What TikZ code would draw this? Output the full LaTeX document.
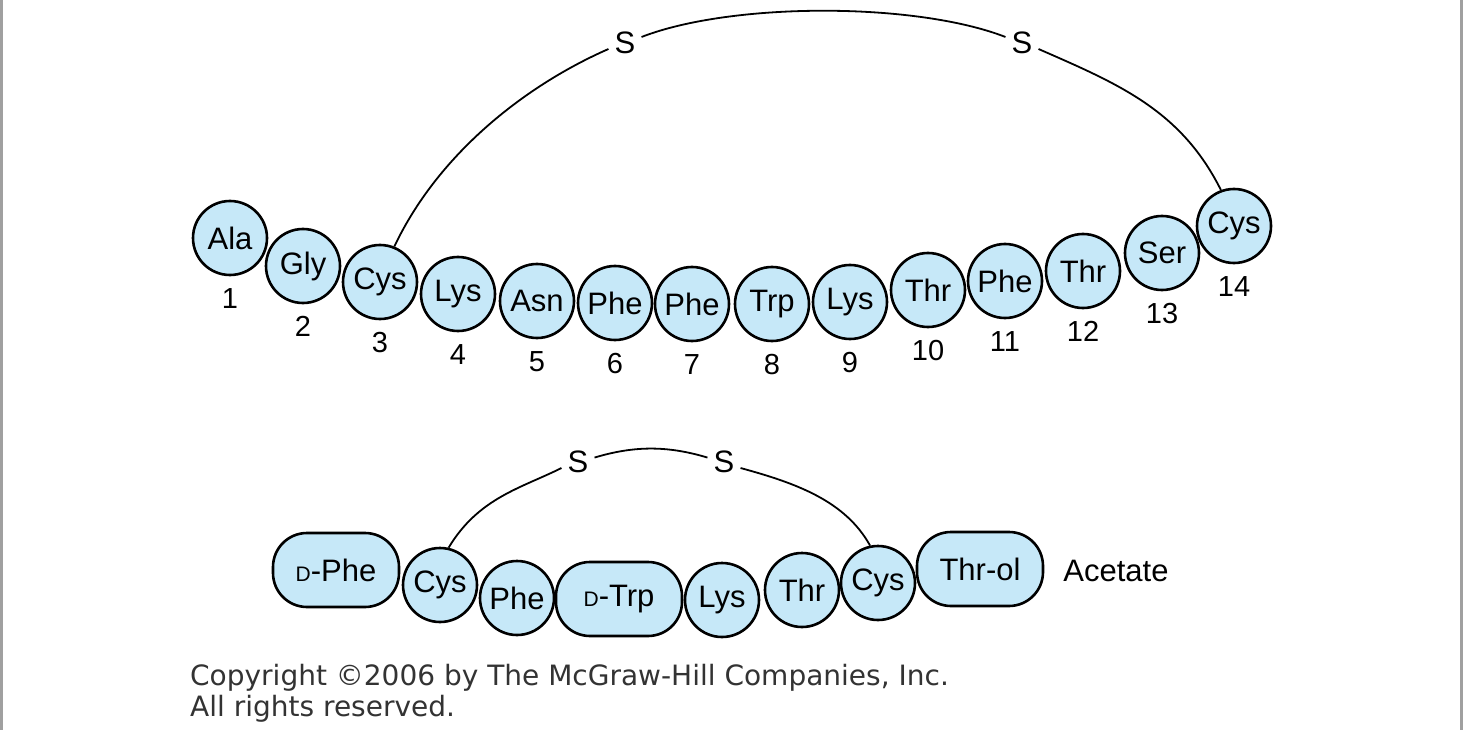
\documentclass[tikz,border=0pt]{standalone}
\usepackage{fontspec}
\setmainfont{Liberation Sans}
\newfontfamily\copyfont{DejaVu Sans}
\usepackage{xcolor}
\definecolor{resblue}{RGB}{198,232,248}
\definecolor{framegray}{RGB}{160,160,160}
\tikzset{
	residue/.style={circle,draw,fill=resblue,line width=2.6pt,minimum size=74pt,inner sep=0pt,font=\fontsize{31}{31}\selectfont},
	longres/.style={rectangle,draw,fill=resblue,line width=2.6pt,rounded corners=34pt,minimum width=126pt,minimum height=74pt,inner sep=0pt,font=\fontsize{31}{31}\selectfont},
	seqnum/.style={inner sep=0pt,font=\fontsize{29}{29}\selectfont},
	sulfur/.style={inner sep=6pt,font=\fontsize{31}{31}\selectfont},
	bond/.style={line width=1.8pt},
	copyright/.style={inner sep=0pt,anchor=base west,font=\copyfont\fontsize{28}{28}\selectfont,text=black!80}
}
\newcommand{\dsmall}{{\fontsize{21}{21}\selectfont D}}

\begin{document}
\begin{tikzpicture}[x=1pt,y=-1pt,label distance=12pt]
	\useasboundingbox (0,0) rectangle (1470,730);
	\draw[framegray,line width=3pt] (1.5,0) -- (1.5,730);
	\draw[framegray,line width=3pt] (1461.5,0) -- (1461.5,730);
	% upper chain
	\node [residue,label={[seqnum]below:1}] (r1) at (230,238) {Ala};
	\node [residue,label={[seqnum]below:2}] (r2) at (303,266) {Gly};
	\node [residue,label={[seqnum]below:3}] (r3) at (380,282) {Cys};
	\node [residue,label={[seqnum]below:4}] (r4) at (458,294) {Lys};
	\node [residue,label={[seqnum]below:5}] (r5) at (537,301) {Asn};
	\node [residue,label={[seqnum]below:6}] (r6) at (615,303) {Phe};
	\node [residue,label={[seqnum]below:7}] (r7) at (692,304) {Phe};
	\node [residue,label={[seqnum]below:8}] (r8) at (772,304) {Trp};
	\node [residue,label={[seqnum]below:9}] (r9) at (850,302) {Lys};
	\node [residue,label={[seqnum]below:10}] (r10) at (928,290) {Thr};
	\node [residue,label={[seqnum]below:11}] (r11) at (1005,281) {Phe};
	\node [residue,label={[seqnum]below:12}] (r12) at (1083,271) {Thr};
	\node [residue,label={[seqnum]below:13}] (r13) at (1162,253) {Ser};
	\node [residue,label={[seqnum]below:14}] (r14) at (1234,226) {Cys};
	\node [sulfur] (sa) at (625,43) {S};
	\node [sulfur] (sb) at (1022,43) {S};
	\draw [bond] (r3.68) .. controls +(45,-95) and +(-80,35) .. (sa.200);
	\draw [bond] (sa.20) .. controls +(90,-35) and +(-90,-35) .. (sb.160);
	\draw [bond] (sb.-20) .. controls +(80,35) and +(-40,-80) .. (r14.110);
	% lower chain
	\node [longres] (o1) at (336,570) {\dsmall-Phe};
	\node [residue] (o2) at (440,585) {Cys};
	\node [residue] (o3) at (517,598) {Phe};
	\node [longres] (o4) at (619,599) {\dsmall-Trp};
	\node [residue] (o5) at (722,600) {Lys};
	\node [residue] (o6) at (802,590) {Thr};
	\node [residue] (o7) at (878,583) {Cys};
	\node [longres] (o8) at (980,569) {Thr-ol};
	\node [font=\fontsize{31}{31}\selectfont] (acet) at (1116,571) {Acetate};
	\node [sulfur] (sc) at (578,462) {S};
	\node [sulfur] (sd) at (724,462) {S};
	\draw [bond] (o2.77) .. controls +(30,-50) and +(-40,20) .. (sc.200);
	\draw [bond] (sc.15) .. controls +(40,-12) and +(-40,-12) .. (sd.165);
	\draw [bond] (sd.-20) .. controls +(55,15) and +(-25,-45) .. (o7.102);
	% copyright
	\node [copyright] (copy1) at (190,685) {Copyright \textcopyright2006 by The McGraw-Hill Companies, Inc.};
	\node [copyright] (copy2) at (190,716) {All rights reserved.};
\end{tikzpicture}
\end{document}
